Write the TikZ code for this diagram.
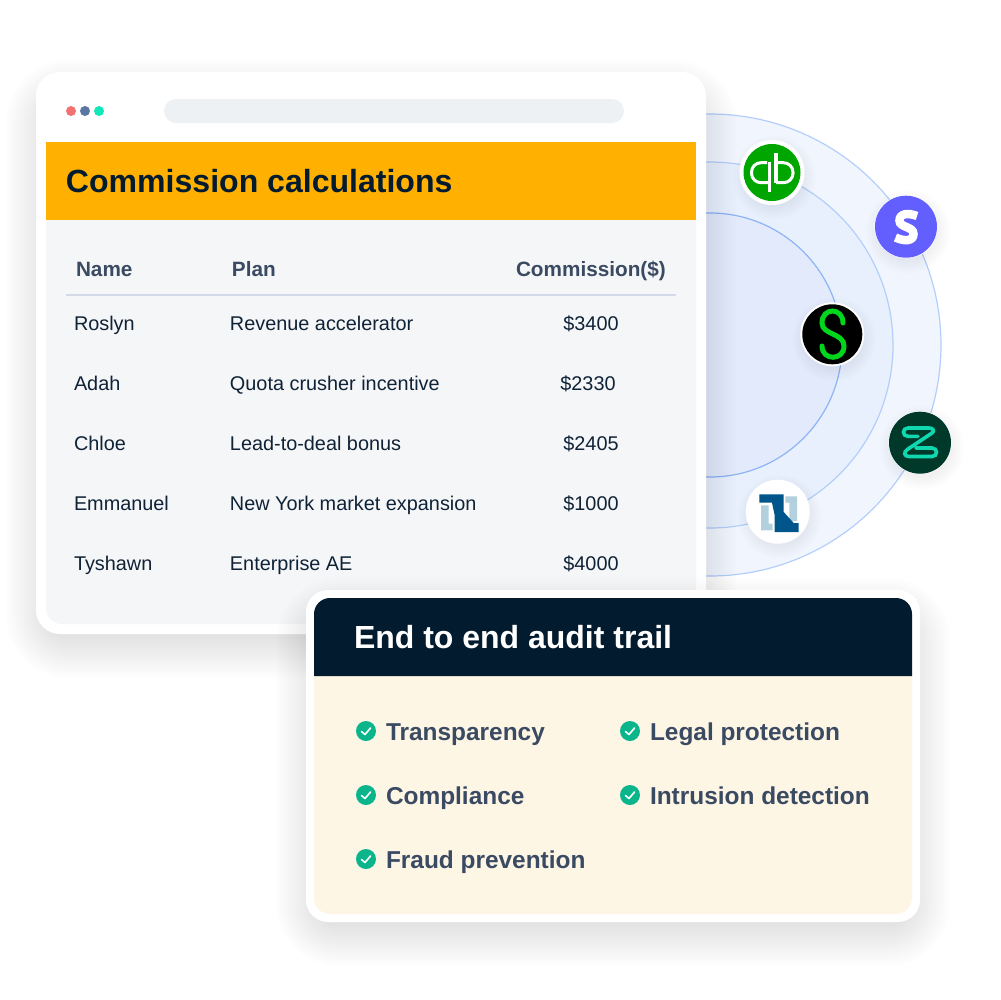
\documentclass[tikz,border=0pt]{standalone}
\usepackage{fontspec}
\setmainfont{Liberation Sans}
\usepackage{xcolor}
\usetikzlibrary{positioning}
\definecolor{ringa}{HTML}{F1F6FE}
\definecolor{ringb}{HTML}{E9F0FD}
\definecolor{ringc}{HTML}{E2EAFB}
\definecolor{ringline}{HTML}{B4CEFB}
\definecolor{ringlinein}{HTML}{8DB4F8}
\definecolor{barfill}{HTML}{EEF1F4}
\definecolor{amber}{HTML}{FFB000}
\definecolor{panel}{HTML}{F5F6F8}
\definecolor{navy}{HTML}{031B2F}
\definecolor{slate}{HTML}{3A4A62}
\definecolor{rowtext}{HTML}{0F2236}
\definecolor{rule}{HTML}{D3D9E8}
\definecolor{cream}{HTML}{FEF6E5}
\definecolor{tick}{HTML}{0AB58B}
\definecolor{dotred}{HTML}{F27272}
\definecolor{dotblue}{HTML}{5B76A3}
\definecolor{dotgreen}{HTML}{0FE8B8}
\definecolor{qbgreen}{HTML}{00A600}
\definecolor{stripeblue}{HTML}{635FFF}
\definecolor{sagegreen}{HTML}{00D61C}
\definecolor{zendark}{HTML}{00382A}
\definecolor{zenglyph}{HTML}{0FD8B0}
\definecolor{nsdark}{HTML}{00568A}
\definecolor{nslight}{HTML}{B3D0DF}
\tikzset{
  txt/.style={inner sep=0pt,outer sep=0pt,anchor=base west},
  headtxt/.style={txt,text=slate,font=\fontsize{5.9}{7}\selectfont\bfseries},
  rowtxt/.style={txt,text=rowtext,font=\fontsize{5.65}{7}\selectfont},
  amttxt/.style={rowtxt,anchor=base},
  itemtxt/.style={txt,text=slate,font=\fontsize{6.95}{9}\selectfont\bfseries},
  logo/.style={circle,inner sep=0pt,minimum size=6.2mm},
}
\begin{document}
\begin{tikzpicture}[x=.1mm,y=-.1mm]
  \useasboundingbox (0,0) rectangle (1000,1000);

  % rings
  \coordinate (hub) at (710,345);
  \fill[ringa] (hub) circle[radius=231];
  \draw[ringline,line width=.12mm] (hub) circle[radius=231];
  \fill[ringb] (hub) circle[radius=183];
  \draw[ringline,line width=.12mm] (hub) circle[radius=183];
  \fill[ringc] (hub) circle[radius=132];
  \draw[ringlinein,line width=.12mm] (hub) circle[radius=132];

  % shadow of the table card
  \foreach \s in {-9,-6,...,30}
    \fill[black,opacity=.006,rounded corners={(24+\s+9)*.1mm}]
      ({36-\s},{90-\s}) rectangle ({706+\s},{648+\s});

  % table card
  \fill[white,rounded corners=2.4mm] (36,72) rectangle (706,634);
  \fill[panel] (46,220) {[rounded corners=1.6mm] -- (46,624) -- (696,624)} -- (696,220) -- cycle;
  \fill[amber] (46,142) rectangle (696,220);
  \fill[barfill,rounded corners=1.2mm] (164,99) rectangle (624,123);
  \fill[dotred] (71,111) circle[radius=5];
  \fill[dotblue] (85,111) circle[radius=5];
  \fill[dotgreen] (99,111) circle[radius=5];

  \node[txt,text=navy,font=\fontsize{9.12}{12}\selectfont\bfseries] (title) at (66,192) {Commission calculations};

  % table head
  \node[headtxt] (colname) at (76,276) {Name};
  \node[headtxt] (colplan) at (232,276) {Plan};
  \node[headtxt] (colamt) at (516,276) {Commission(\$)};
  \coordinate (rulea) at (66,295);
  \coordinate (ruleb) at (676,295);
  \draw[rule,line width=.2mm] (rulea) -- (ruleb);

  % rows
  \foreach \who/\plan/\amt/\ax/\yy in {Roslyn/Revenue accelerator/3400/591/330,
    Adah/Quota crusher incentive/2330/588/390,
    Chloe/Lead-to-deal bonus/2405/591/450,
    Emmanuel/New York market expansion/1000/591/510,
    Tyshawn/Enterprise AE/4000/591/570} {
    \node[rowtxt] (who\who) at (74,\yy) {\who};
    \node[rowtxt] (plan\who) at (230,\yy) {\plan};
    \node[amttxt] (amt\who) at (\ax,\yy) {\$\amt};
  }

  % logo shadows
  \foreach \lx/\ly in {772/172.5,906/226.7,832.3/334.3,920/442.7,777.7/511.7}
    \foreach \s in {30,32,...,42}
      \fill[black,opacity=.008] ({\lx+2},{\ly+5}) circle[radius=\s];

  % quickbooks
  \node[logo,fill=white,minimum size=6.5mm] (qbring) at (772,172.5) {};
  \node[logo,fill=qbgreen,minimum size=5.7mm] (qb) at (772,172.5) {};
  \draw[white,line width=.3mm,rounded corners=.95mm]
    (769.3,182.7) -- (751.5,182.7) -- (751.5,162.7) -- (767,162.7);
  \draw[white,line width=.34mm] (769.3,162) -- (769.3,192);
  \draw[white,line width=.3mm,rounded corners=.95mm]
    (776,182.7) -- (793,182.7) -- (793,162.7) -- (778,162.7);
  \draw[white,line width=.34mm] (776,153) -- (776,183);

  % stripe
  \node[logo,fill=white,minimum size=6.3mm] (stripering) at (906,226.7) {};
  \node[logo,fill=stripeblue] (stripe) at (906,226.7) {};
  \draw[white,line width=.85mm]
    (917,216) .. controls (908,212.5) and (899.5,213.5) .. (899.5,220.5)
    .. controls (899.5,228) and (913.5,226) .. (913.5,234)
    .. controls (913.5,241.5) and (904,241.5) .. (895.5,237.5);

  % sage
  \node[logo,fill=white,minimum size=6.4mm] (sagering) at (832.3,334.3) {};
  \node[logo,fill=black,minimum size=6mm] (sage) at (832.3,334.3) {};
  \draw[sagegreen,line width=.5mm,line cap=round]
    (843,323) .. controls (843,307) and (822,307) .. (822,323)
    .. controls (822,335) and (844,333) .. (844,346)
    .. controls (844,361) and (822,361) .. (822,346);

  % zenefits
  \node[logo,fill=white,minimum size=6.3mm] (zenring) at (920,442.7) {};
  \node[logo,fill=zendark] (zen) at (920,442.7) {};
  \draw[zenglyph,line width=.36mm,line cap=round]
    (918,436.3) -- (908,436.3) .. controls (902,436.3) and (902,428) .. (908,428)
    -- (929,428) .. controls (933,428) and (935,431) .. (932,433)
    -- (908,449) .. controls (903,452) and (904,456.5) .. (909,456.5)
    -- (932,456.5) .. controls (938,456.5) and (938,448) .. (932,448) -- (916,448);

  % netsuite
  \node[logo,fill=white,minimum size=6.4mm] (nsring) at (777.7,511.7) {};
  \fill[nslight] (761,505.3) -- (768.7,505.3) -- (768.7,523.7) -- (772.7,523.7) -- (772.7,530.3) -- (761,530.3) -- cycle;
  \fill[nslight] (785.3,496.3) -- (797,496.3) -- (797,521) -- (789.3,521) -- (789.3,502.7) -- (785.3,502.7) -- cycle;
  \fill[nsdark] (759.3,494.3) -- (783.7,494.3) -- (783.7,512) -- (793.7,523) -- (798.7,523) -- (798.7,532)
    -- (774.7,532) -- (774.7,515.3) -- (772,502.7) -- (759.3,502.7) -- cycle;

  % shadow of the audit card
  \foreach \s in {-9,-6,...,30}
    \fill[black,opacity=.006,rounded corners={(24+\s+9)*.1mm}]
      ({306-\s},{608-\s}) rectangle ({920+\s},{936+\s});

  % audit card
  \fill[white,rounded corners=2.2mm] (306,590) rectangle (920,922);
  \fill[cream] (314,676) {[rounded corners=1.6mm] -- (314,914) -- (912,914)} -- (912,676) -- cycle;
  \fill[navy] (314,676) {[rounded corners=1.6mm] -- (314,598) -- (912,598)} -- (912,676) -- cycle;
  \node[txt,text=white,font=\fontsize{9.1}{12}\selectfont\bfseries] (audit) at (354,648) {End to end audit trail};

  % checks
  \foreach \what/\cx/\cy in {Transparency/366/731,Legal protection/630/731,Compliance/366/795,
    Intrusion detection/630/795,Fraud prevention/366/859} {
    \fill[tick] (\cx,\cy) circle[radius=10];
    \draw[white,line width=.16mm,line cap=round,line join=round]
      ({\cx-4.5},{\cy+.5}) -- ({\cx-1},{\cy+3.5}) -- ({\cx+4.5},{\cy-3});
    \node[itemtxt] (item\cx\cy) at ({\cx+20},{\cy+9}) {\what};
  }
\end{tikzpicture}
\end{document}
